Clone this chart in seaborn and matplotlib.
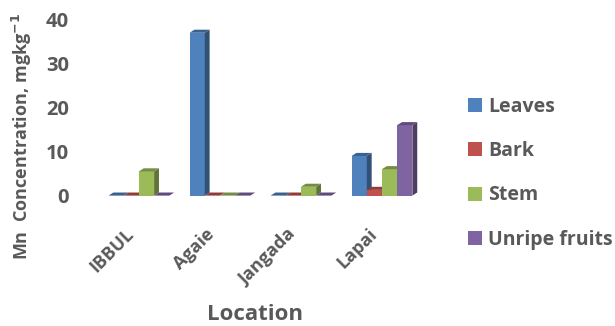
import matplotlib
matplotlib.use("Agg")
import matplotlib.pyplot as plt
import matplotlib.transforms as mtransforms
from matplotlib.patches import Polygon, Patch
import seaborn as sns
import pandas as pd
import numpy as np

locations = ["IBBUL", "Agaie", "Jangada", "Lapai"]
parts = ["Leaves", "Bark", "Stem", "Unripe fruits"]
leaves = [0.0, 37.0, 0.0, 9.0]
bark = [0.0, 0.0, 0.0, 1.3]
stem = [5.5, 0.0, 2.0, 6.0]
unripe = [0.0, 0.0, 0.0, 16.0]

colors = ["#4F81BD", "#C0504D", "#9BBB59", "#8064A2"]

df = pd.DataFrame({
    "Location": np.repeat(locations, len(parts)),
    "Part": parts * len(locations),
    "Value": [v for row in zip(leaves, bark, stem, unripe) for v in row],
})

sns.set_theme(style="white")
plt.rcParams["font.family"] = ["Open Sans", "DejaVu Sans"]
text_color = "#595959"

fig = plt.figure(figsize=(6.15, 3.26), dpi=100)
ax = fig.add_axes([0.16, 0.40, 0.527, 0.54])

sns.barplot(data=df, x="Location", y="Value", hue="Part", order=locations,
            hue_order=parts, palette=colors, width=0.75, saturation=1,
            errorbar=None, legend=False, ax=ax, linewidth=0)

ax.set_xlim(-0.5, 3.5)
ax.set_ylim(0, 40)


def shade(c, f):
    r, g, b = matplotlib.colors.to_rgb(c)
    return (r * f, g * f, b * f)


# pseudo-3D depth for each bar: right side face and top face
dx, dy = 0.06, 0.7
bars = sorted(ax.patches, key=lambda p: p.get_x())
for i, p in enumerate(bars):
    x, w, h = p.get_x(), p.get_width(), p.get_height()
    c = p.get_facecolor()
    z = 3 + 3 * i
    p.set_zorder(z)
    side = Polygon([(x + w, 0), (x + w + dx, dy), (x + w + dx, h + dy), (x + w, h)],
                   closed=True, facecolor=shade(c, 0.62), edgecolor="none",
                   zorder=z + 1, clip_on=False)
    top = Polygon([(x, h), (x + dx, h + dy), (x + w + dx, h + dy), (x + w, h)],
                  closed=True, facecolor=shade(c, 0.75), edgecolor="none",
                  zorder=z + 2, clip_on=False)
    ax.add_patch(side)
    ax.add_patch(top)

for s in ax.spines.values():
    s.set_visible(False)

ax.set_yticks([0, 10, 20, 30, 40])
ax.tick_params(axis="y", length=0, pad=21, labelsize=14.5, labelcolor=text_color)
ax.tick_params(axis="x", length=0, pad=26, labelsize=13, labelcolor=text_color)
for t in ax.get_yticklabels():
    t.set_fontweight("bold")
shift = mtransforms.ScaledTranslation(-8 / 100, 0, fig.dpi_scale_trans)
for t in ax.get_xticklabels():
    t.set_fontweight("bold")
    t.set_rotation(45)
    t.set_ha("right")
    t.set_va("center")
    t.set_rotation_mode("anchor")
    t.set_transform(t.get_transform() + shift)

ax.set_xlabel("")
ax.set_ylabel("")
fig.text(0.415, 0.035, "Location", ha="center", va="center", fontsize=16,
         fontweight="bold", color=text_color)
fig.text(0.036, 0.583, "Mn  Concentration, mgkg$^{\\mathbf{-1}}$", rotation=90,
         ha="center", va="center", fontsize=13, fontweight="bold", color=text_color)

handles = [Patch(facecolor=c, edgecolor="none") for c in colors]
fig.legend(handles, parts, loc="upper left", bbox_to_anchor=(0.761, 0.703),
           frameon=False, borderpad=0, borderaxespad=0,
           handlelength=0.72, handleheight=0.72, handletextpad=0.3,
           labelspacing=1.25, prop={"weight": "bold", "size": 14},
           labelcolor=text_color)

fig.savefig("out.png", dpi=100)
